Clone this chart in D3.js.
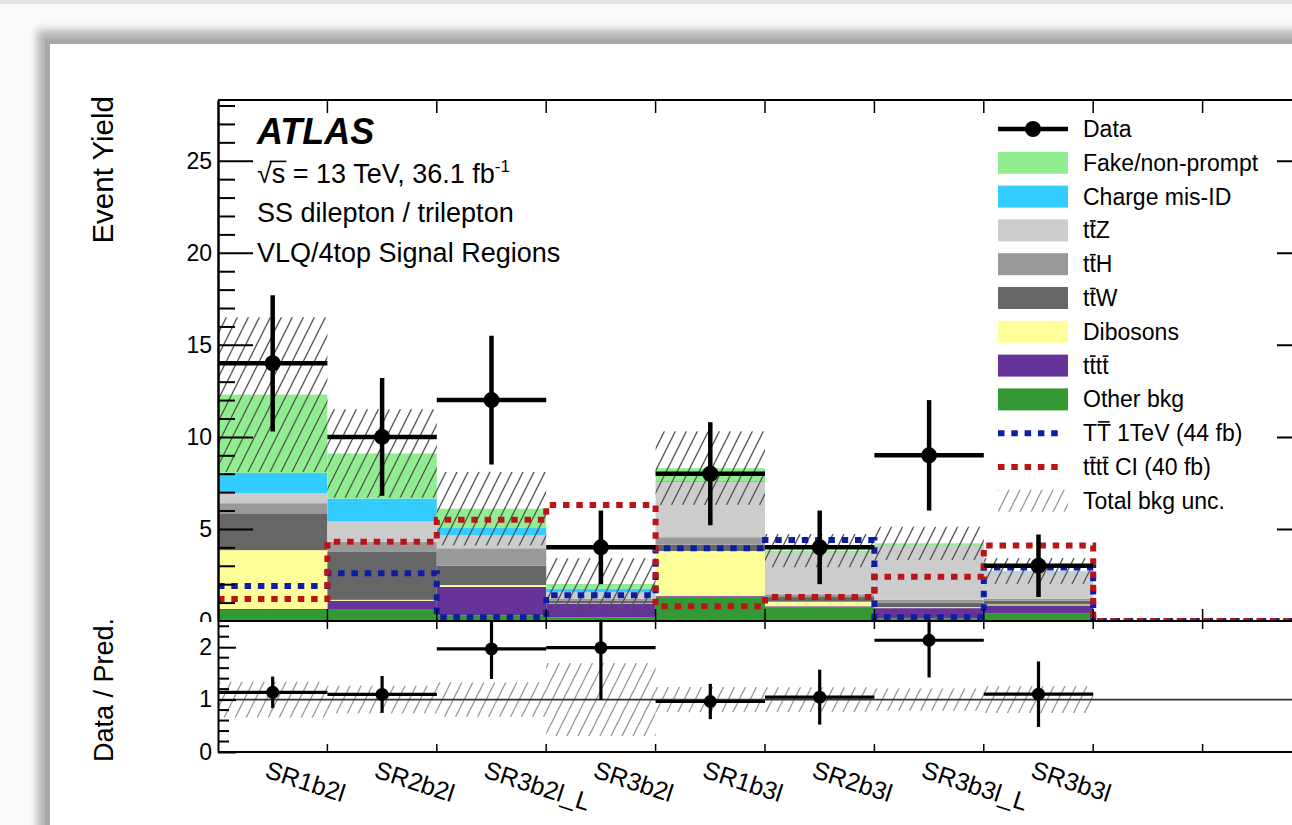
<!DOCTYPE html>
<html>
<head>
<meta charset="utf-8">
<script src="https://cdn.jsdelivr.net/npm/d3@7"></script>
<style>
  html, body { margin: 0; padding: 0; background: #fafafa; overflow: hidden; }
  text { font-family: "Liberation Sans", Arial, Helvetica, sans-serif; fill: #000; }
</style>
</head>
<body>
<svg id="chart" width="1292" height="825"></svg>
<script>
// ---- Signal-region yields (SS dilepton / trilepton, 36.1 fb^-1) ----
const categories = ["SR1b2l", "SR2b2l", "SR3b2l_L", "SR3b2l", "SR1b3l", "SR2b3l", "SR3b3l_L", "SR3b3l", "", ""];

const dataCounts = [14, 10, 12, 4, 8, 4, 9, 3];
const dataErrors = [3.7, 3.2, 3.5, 2.0, 2.8, 2.0, 3.0, 1.7];

// background components, bottom of the stack first
const bkgOther       = [0.60, 0.65, 0.30, 0.20, 1.30, 0.75, 0.15, 0.40, 0, 0];
const bkgFourTop     = [0.05, 0.45, 1.55, 0.75, 0.05, 0.05, 0.55, 0.45, 0, 0];
const bkgDiboson     = [3.20, 0.05, 0.10, 0.02, 2.45, 0.25, 0.05, 0.05, 0, 0];
const bkgTTW         = [2.00, 2.60, 1.05, 0.12, 0.35, 0.25, 0.25, 0.20, 0, 0];
const bkgTTH         = [0.55, 0.55, 0.95, 0.12, 0.40, 0.15, 0.15, 0.10, 0, 0];
const bkgTTZ         = [0.55, 1.10, 0.70, 0.35, 3.00, 2.20, 2.95, 1.45, 0, 0];
const bkgChargeFlip  = [1.10, 1.25, 0.40, 0.20, 0.05, 0.02, 0.02, 0.02, 0, 0];
const bkgFake        = [4.25, 2.45, 1.05, 0.25, 0.70, 0.15, 0.10, 0.05, 0, 0];

const bkgUncertainty = [4.2, 2.4, 2.0, 1.4, 2.0, 0.9, 0.9, 0.7];

// signal hypotheses (not stacked)
const signalTT        = [1.9, 2.6, 0.2, 1.4, 3.95, 4.4, 0.2, 2.9, 0, 0];
const signalFourTopCI = [1.2, 4.3, 5.5, 6.3, 0.8, 1.3, 2.4, 4.1, 0, 0];

const yTicksMain  = [0, 5, 10, 15, 20, 25];
const yTicksRatio = [0, 1, 2];

// ---- layout ----
const frame = { left: 218, right: 1312, top: 100, mid: 621, bottom: 752 };
const FONT = 23;

const svg = d3.select("#chart");
const defs = svg.append("defs");

// window backdrop with soft shadow
defs.append("filter").attr("id", "soft").attr("x", "-10%").attr("y", "-10%").attr("width", "120%").attr("height", "120%")
  .append("feGaussianBlur").attr("stdDeviation", 4);
svg.append("rect").attr("x", 0).attr("y", 0).attr("width", 1292).attr("height", 825).attr("fill", "#fbfbfb");
svg.append("rect").attr("x", 0).attr("y", 0).attr("width", 1292).attr("height", 4).attr("fill", "#e4e4e4");
svg.append("rect").attr("x", 37).attr("y", 30).attr("width", 1400).attr("height", 900)
  .attr("fill", "#b4b4b4").attr("filter", "url(#soft)");
svg.append("rect").attr("x", 45).attr("y", 39).attr("width", 1400).attr("height", 900).attr("fill", "#a8a8a8");
svg.append("rect").attr("x", 50).attr("y", 44).attr("width", 1400).attr("height", 900).attr("fill", "#ffffff");

// hatch patterns for the uncertainty bands
function hatch(id, color, width) {
  const p = defs.append("pattern").attr("id", id).attr("patternUnits", "userSpaceOnUse")
    .attr("width", 11).attr("height", 22);
  [-11, 0, 11].forEach(dx => {
    p.append("line").attr("x1", dx).attr("y1", 22).attr("x2", dx + 11).attr("y2", 0)
      .attr("stroke", color).attr("stroke-width", width);
  });
}
hatch("hatchMain", "#555555", 1.3);
hatch("hatchRatio", "#9a9a9a", 1.3);

defs.append("clipPath").attr("id", "clipMain").append("rect")
  .attr("x", frame.left).attr("y", frame.top).attr("width", frame.right - frame.left).attr("height", frame.mid - frame.top);
defs.append("clipPath").attr("id", "clipRatio").append("rect")
  .attr("x", frame.left).attr("y", frame.mid).attr("width", frame.right - frame.left).attr("height", frame.bottom - frame.mid);

// ---- scales ----
const x = d3.scaleBand().domain(d3.range(categories.length)).range([frame.left, frame.right]).padding(0);
const bw = x.bandwidth();
const y = d3.scaleLinear().domain([0, 28.3]).range([frame.mid, frame.top]);
const yr = d3.scaleLinear().domain([0, 2.5]).range([frame.bottom, frame.mid]);

const samples = [
  { key: "Other bkg",       values: bkgOther,      color: "#339933" },
  { key: "tttt",            values: bkgFourTop,    color: "#663399" },
  { key: "Dibosons",        values: bkgDiboson,    color: "#ffff99" },
  { key: "ttW",             values: bkgTTW,        color: "#666666" },
  { key: "ttH",             values: bkgTTH,        color: "#999999" },
  { key: "ttZ",             values: bkgTTZ,        color: "#cccccc" },
  { key: "Charge mis-ID",   values: bkgChargeFlip, color: "#33ccff" },
  { key: "Fake/non-prompt", values: bkgFake,       color: "#90ee90" }
];
const table = categories.map((c, i) => {
  const row = { bin: i };
  samples.forEach(s => { row[s.key] = s.values[i]; });
  return row;
});
const stacked = d3.stack().keys(samples.map(s => s.key))(table);
const totals = table.map(r => d3.sum(samples, s => r[s.key]));

// ---- main panel ----
const main = svg.append("g").attr("clip-path", "url(#clipMain)");

stacked.forEach((layer, k) => {
  main.append("g").selectAll("rect")
    .data(layer.filter(d => d[1] - d[0] > 0))
    .join("rect")
    .attr("x", d => x(d.data.bin))
    .attr("width", bw)
    .attr("y", d => y(d[1]))
    .attr("height", d => y(d[0]) - y(d[1]))
    .attr("fill", samples[k].color);
});

main.append("g").selectAll("rect")
  .data(bkgUncertainty)
  .join("rect")
  .attr("x", (u, i) => x(i))
  .attr("width", bw)
  .attr("y", (u, i) => y(totals[i] + u))
  .attr("height", (u, i) => y(totals[i] - u) - y(totals[i] + u))
  .attr("fill", "url(#hatchMain)");

function stepPoints(values) {
  const pts = [];
  values.forEach((v, i) => { pts.push([x(i), v]); pts.push([x(i) + bw, v]); });
  return pts;
}
const stepLine = d3.line().x(p => p[0]).y(p => y(p[1]));
main.append("path").attr("d", stepLine(stepPoints(signalTT)))
  .attr("fill", "none").attr("stroke", "#0d1ea3").attr("stroke-width", 6)
  .attr("stroke-dasharray", "6.5 6.8");
main.append("path").attr("d", stepLine(stepPoints(signalFourTopCI)))
  .attr("fill", "none").attr("stroke", "#bb1418").attr("stroke-width", 6)
  .attr("stroke-dasharray", "6.5 6.8");

const dataG = main.append("g");
dataCounts.forEach((n, i) => {
  const cx = x(i) + bw / 2;
  dataG.append("line").attr("x1", x(i)).attr("x2", x(i) + bw).attr("y1", y(n)).attr("y2", y(n))
    .attr("stroke", "#000").attr("stroke-width", 4.5);
  dataG.append("line").attr("x1", cx).attr("x2", cx).attr("y1", y(n - dataErrors[i])).attr("y2", y(n + dataErrors[i]))
    .attr("stroke", "#000").attr("stroke-width", 4.5);
  dataG.append("circle").attr("cx", cx).attr("cy", y(n)).attr("r", 8).attr("fill", "#000");
});

// main y axis (ticks inside)
const axMain = svg.append("g").attr("transform", `translate(${frame.left},0)`);
axMain.call(d3.axisLeft(y).tickValues(yTicksMain).tickSize(-35).tickSizeOuter(0).tickPadding(6).tickFormat(d3.format("d")));
axMain.append("g").call(d3.axisLeft(y).tickValues(d3.range(1, 29).filter(v => v % 5 !== 0))
  .tickSize(-17).tickSizeOuter(0).tickFormat(""));
axMain.selectAll("text").attr("font-size", FONT).attr("font-family", "Liberation Sans, Arial, sans-serif");
axMain.selectAll("line, path").attr("stroke", "#000").attr("stroke-width", 2);

// mirrored axis on the right
const axRight = svg.append("g").attr("transform", `translate(${frame.right},0)`);
axRight.call(d3.axisRight(y).tickValues(yTicksMain).tickSize(-35).tickSizeOuter(0).tickFormat(""));
axRight.append("g").call(d3.axisRight(y).tickValues(d3.range(1, 29).filter(v => v % 5 !== 0))
  .tickSize(-17).tickSizeOuter(0).tickFormat(""));
axRight.selectAll("line, path").attr("stroke", "#000").attr("stroke-width", 2);

// ---- ratio pad ----
svg.append("rect").attr("x", 50).attr("y", frame.mid + 1).attr("width", 1300).attr("height", 300).attr("fill", "#fff");

const ratio = svg.append("g").attr("clip-path", "url(#clipRatio)");
ratio.append("g").selectAll("rect")
  .data(bkgUncertainty)
  .join("rect")
  .attr("x", (u, i) => x(i))
  .attr("width", bw)
  .attr("y", (u, i) => yr(1 + u / totals[i]))
  .attr("height", (u, i) => yr(1 - u / totals[i]) - yr(1 + u / totals[i]))
  .attr("fill", "url(#hatchRatio)");
ratio.append("line").attr("x1", frame.left).attr("x2", frame.right).attr("y1", yr(1)).attr("y2", yr(1))
  .attr("stroke", "#333").attr("stroke-width", 1.6);
dataCounts.forEach((n, i) => {
  const r = n / totals[i];
  const e = dataErrors[i] / totals[i];
  const cx = x(i) + bw / 2;
  ratio.append("line").attr("x1", x(i)).attr("x2", x(i) + bw).attr("y1", yr(r)).attr("y2", yr(r))
    .attr("stroke", "#000").attr("stroke-width", 3.2);
  ratio.append("line").attr("x1", cx).attr("x2", cx).attr("y1", yr(r - e)).attr("y2", yr(r + e))
    .attr("stroke", "#000").attr("stroke-width", 3.2);
  ratio.append("circle").attr("cx", cx).attr("cy", yr(r)).attr("r", 6.5).attr("fill", "#000");
});

// ratio y axis: majors every 1, minors every 0.2
const ratioMinor = d3.range(1, 13).map(k => +(k * 0.2).toFixed(1)).filter(v => v % 1 !== 0);
const axRatio = svg.append("g").attr("transform", `translate(${frame.left},0)`);
axRatio.call(d3.axisLeft(yr).tickValues(yTicksRatio).tickSize(-18).tickSizeOuter(0).tickPadding(6).tickFormat(d3.format("d")));
axRatio.selectAll("text").attr("font-size", FONT).attr("font-family", "Liberation Sans, Arial, sans-serif");
axRatio.selectAll("line, path").attr("stroke", "#000").attr("stroke-width", 2);
const minorG = svg.append("g").attr("stroke", "#000").attr("stroke-width", 2);
ratioMinor.forEach(v => {
  minorG.append("line").attr("x1", frame.left).attr("x2", frame.left + 11).attr("y1", yr(v)).attr("y2", yr(v));
});

const axRatioRight = svg.append("g").attr("transform", `translate(${frame.right},0)`);
axRatioRight.call(d3.axisRight(yr).tickValues(yTicksRatio).tickSize(-18).tickSizeOuter(0).tickFormat(""));
axRatioRight.selectAll("line, path").attr("stroke", "#000").attr("stroke-width", 2);

// horizontal frame lines and bin-edge ticks
const edges = d3.range(categories.length + 1).map(i => i < categories.length ? x(i) : frame.right);
const frameG = svg.append("g").attr("stroke", "#000").attr("stroke-width", 2);
[frame.top, frame.mid, frame.bottom].forEach(yy => {
  frameG.append("line").attr("x1", frame.left).attr("x2", frame.right).attr("y1", yy).attr("y2", yy);
});
edges.slice(1, -1).forEach(ex => {
  frameG.append("line").attr("x1", ex).attr("x2", ex).attr("y1", frame.top).attr("y2", frame.top + 13).attr("stroke-width", 1.5);
  frameG.append("line").attr("x1", ex).attr("x2", ex).attr("y1", frame.mid).attr("y2", frame.mid - 12).attr("stroke-width", 1.5);
  frameG.append("line").attr("x1", ex).attr("x2", ex).attr("y1", frame.mid).attr("y2", frame.mid + 8).attr("stroke-width", 1.5);
  frameG.append("line").attr("x1", ex).attr("x2", ex).attr("y1", frame.bottom).attr("y2", frame.bottom - 8).attr("stroke-width", 1.5);
});

// rotated bin labels
svg.append("g").selectAll("text")
  .data(categories.map((c, i) => ({ c, i })).filter(d => d.c !== ""))
  .join("text")
  .attr("transform", d => `translate(${x(d.i) + bw / 2 - 9},777) rotate(18)`)
  .attr("font-size", 25)
  .text(d => d.c);

// axis titles
svg.append("text").attr("transform", "translate(113,96) rotate(-90)").attr("text-anchor", "end")
  .attr("font-size", 29.5).text("Event Yield");
svg.append("text").attr("transform", "translate(113,618) rotate(-90)").attr("text-anchor", "end")
  .attr("font-size", 27).text("Data / Pred.");

// text with overbars on selected characters
function barredText(parent, px, py, str, barred, size) {
  const t = parent.append("text").attr("x", px).attr("y", py).attr("font-size", size).text(str);
  const node = t.node();
  barred.forEach(i => {
    const ext = node.getExtentOfChar(i);
    const cap = /[A-Z]/.test(str[i]);
    const yy = py - size * (cap ? 0.84 : 0.76);
    parent.append("line")
      .attr("x1", ext.x + ext.width * 0.08).attr("x2", ext.x + ext.width * (cap ? 0.92 : 0.98))
      .attr("y1", yy).attr("y2", yy).attr("stroke", "#000").attr("stroke-width", 1.6);
  });
  return t;
}

// ATLAS label block
const label = svg.append("g");
label.append("text").attr("x", 257).attr("y", 144).attr("font-size", 36)
  .attr("font-weight", "bold").attr("font-style", "italic").text("ATLAS");
const lumi = label.append("text").attr("x", 257).attr("y", 183).attr("font-size", 27);
lumi.append("tspan").text("\u221As = 13 TeV, 36.1 fb");
lumi.append("tspan").attr("dy", -11).attr("font-size", 17).text("-1");
{
  const node = lumi.node();
  const r = node.getExtentOfChar(0), s = node.getExtentOfChar(1);
  label.append("line").attr("x1", r.x + r.width - 2).attr("x2", s.x + s.width + 1)
    .attr("y1", 183 - 27 * 0.8).attr("y2", 183 - 27 * 0.8).attr("stroke", "#000").attr("stroke-width", 1.6);
}
label.append("text").attr("x", 257).attr("y", 222).attr("font-size", 27).text("SS dilepton / trilepton");
label.append("text").attr("x", 257).attr("y", 262).attr("font-size", 27).text("VLQ/4top Signal Regions");

// ---- legend ----
const legend = svg.append("g");
const lx0 = 998, lx1 = 1068, ltx = 1083, ly0 = 129, ldy = 33.8, lsize = 23;
const legendRows = [
  { type: "data", text: "Data", bars: [] },
  { type: "fill", text: "Fake/non-prompt", bars: [], color: "#90ee90" },
  { type: "fill", text: "Charge mis-ID", bars: [], color: "#33ccff" },
  { type: "fill", text: "ttZ", bars: [1], color: "#cccccc" },
  { type: "fill", text: "ttH", bars: [1], color: "#999999" },
  { type: "fill", text: "ttW", bars: [1], color: "#666666" },
  { type: "fill", text: "Dibosons", bars: [], color: "#ffff99" },
  { type: "fill", text: "tttt", bars: [1, 3], color: "#663399" },
  { type: "fill", text: "Other bkg", bars: [], color: "#339933" },
  { type: "line", text: "TT 1TeV (44 fb)", bars: [1], color: "#0d1ea3" },
  { type: "line", text: "tttt CI (40 fb)", bars: [1, 3], color: "#bb1418" },
  { type: "hatch", text: "Total bkg unc.", bars: [] }
];
legendRows.forEach((row, k) => {
  const cy = ly0 + k * ldy;
  if (row.type === "data") {
    legend.append("line").attr("x1", lx0).attr("x2", lx1).attr("y1", cy).attr("y2", cy)
      .attr("stroke", "#000").attr("stroke-width", 4.5);
    legend.append("circle").attr("cx", (lx0 + lx1) / 2).attr("cy", cy).attr("r", 8).attr("fill", "#000");
  } else if (row.type === "fill") {
    legend.append("rect").attr("x", lx0).attr("y", cy - 11).attr("width", lx1 - lx0).attr("height", 22).attr("fill", row.color);
  } else if (row.type === "line") {
    legend.append("line").attr("x1", lx0).attr("x2", lx1 - 4).attr("y1", cy).attr("y2", cy)
      .attr("stroke", row.color).attr("stroke-width", 6).attr("stroke-dasharray", "6.5 6.8");
  } else {
    legend.append("rect").attr("x", lx0).attr("y", cy - 11).attr("width", lx1 - lx0).attr("height", 22).attr("fill", "url(#hatchRatio)");
  }
  barredText(legend, ltx, cy + 8, row.text, row.bars, lsize);
});
</script>
</body>
</html>
